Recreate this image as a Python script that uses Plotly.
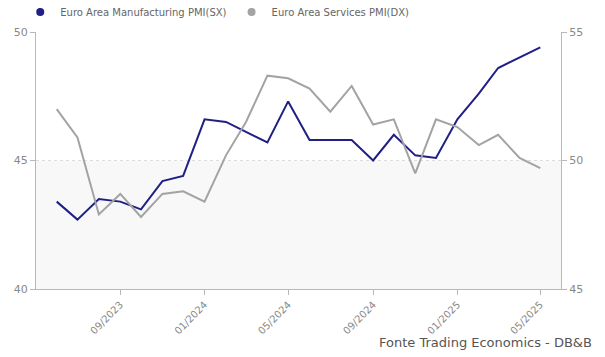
import plotly.graph_objects as go

months = ["2023-06", "2023-07", "2023-08", "2023-09", "2023-10", "2023-11", "2023-12",
          "2024-01", "2024-02", "2024-03", "2024-04", "2024-05", "2024-06", "2024-07",
          "2024-08", "2024-09", "2024-10", "2024-11", "2024-12", "2025-01", "2025-02",
          "2025-03", "2025-04", "2025-05"]
manufacturing = [43.4, 42.7, 43.5, 43.4, 43.1, 44.2, 44.4, 46.6, 46.5, 46.1, 45.7, 47.3,
                 45.8, 45.8, 45.8, 45.0, 46.0, 45.2, 45.1, 46.6, 47.6, 48.6, 49.0, 49.4]
services = [52.0, 50.9, 47.9, 48.7, 47.8, 48.7, 48.8, 48.4, 50.2, 51.5, 53.3, 53.2,
            52.8, 51.9, 52.9, 51.4, 51.6, 49.5, 51.6, 51.3, 50.6, 51.0, 50.1, 49.7]
left_ticks = [40, 45, 50]
right_ticks = [45, 50, 55]
name_m = "Euro Area Manufacturing PMI(SX)"
name_s = "Euro Area Services PMI(DX)"
source = "Fonte Trading Economics - DB&B"

dates = [m + "-01" for m in months]
c_m = "#1f1f86"
c_s = "#a3a3a3"
axis_c = "#b8b8b8"
font = "DejaVu Sans"

fig = go.Figure()
fig.add_trace(go.Scatter(x=dates, y=manufacturing, mode="lines", name=name_m,
                         line=dict(color=c_m, width=2), showlegend=False, yaxis="y"))
fig.add_trace(go.Scatter(x=dates, y=services, mode="lines", name=name_s,
                         line=dict(color=c_s, width=2), showlegend=False, yaxis="y2"))
# legend entries with dot symbols
fig.add_trace(go.Scatter(x=[None], y=[None], mode="markers", name=name_m,
                         marker=dict(color=c_m, size=8, symbol="circle")))
fig.add_trace(go.Scatter(x=[None], y=[None], mode="markers", name=name_s,
                         marker=dict(color=c_s, size=8, symbol="circle")))

fig.add_shape(type="rect", xref="paper", yref="y", x0=0, x1=1, y0=40, y1=45,
              fillcolor="#f8f8f8", line=dict(width=0), layer="below")

fig.update_layout(
    width=605, height=357,
    margin=dict(l=28, r=52, t=24, b=76, autoexpand=False),
    paper_bgcolor="white", plot_bgcolor="white",
    font=dict(family=font, color="#888888", size=11),
    legend=dict(orientation="h", x=-0.03, xanchor="left", y=1.078, yanchor="middle",
                yref="paper", font=dict(size=10, color="#666666"),
                itemwidth=30, bgcolor="rgba(0,0,0,0)"),
    xaxis=dict(type="date", range=["2023-05-02", "2025-05-31"], automargin=False,
               tick0="2023-09-01", dtick="M4", tickformat="%m/%Y", tickangle=-45,
               showgrid=False, showline=True, linecolor=axis_c, linewidth=1,
               ticks="outside", ticklen=5, tickcolor=axis_c,
               tickfont=dict(size=10, color="#888888"), zeroline=False),
    yaxis=dict(range=[40, 50], tickvals=left_ticks, showgrid=True, gridcolor="#dddddd",
               griddash="dot", gridwidth=1, showline=True, linecolor=axis_c,
               ticks="outside", ticklen=5, tickcolor=axis_c, zeroline=False,
               automargin=False, tickfont=dict(size=11, color="#888888")),
    yaxis2=dict(range=[45, 55], tickvals=right_ticks, overlaying="y", side="right",
                showgrid=False, showline=True, linecolor=axis_c, automargin=False,
                ticks="outside", ticklen=5, tickcolor=axis_c, zeroline=False,
                tickfont=dict(size=11, color="#888888")),
)

fig.add_annotation(text=source, xref="paper", yref="paper", x=1.062, y=-0.21,
                   xanchor="right", yanchor="middle", showarrow=False,
                   font=dict(size=13, color="#555555", family=font))

fig.write_html("out.html")
